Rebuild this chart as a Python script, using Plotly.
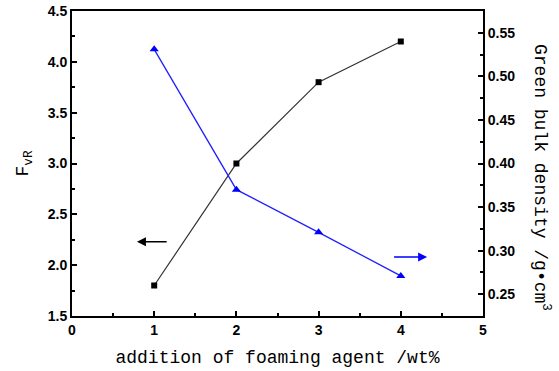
import plotly.graph_objects as go

additions = [1, 2, 3, 4]
fvr_values = [1.8, 3.0, 3.8, 4.2]
density_values = [0.531, 0.370, 0.321, 0.271]

x_ticks = [0, 1, 2, 3, 4, 5]
left_ticks = [1.5, 2.0, 2.5, 3.0, 3.5, 4.0, 4.5]
right_ticks = [0.25, 0.30, 0.35, 0.40, 0.45, 0.50, 0.55]

# indicator arrows (data coords): [head_x, tail_x, y on left axis]
left_arrow = [0.79, 1.17, 2.23]
right_arrow = [4.32, 3.90, 2.08]

title_font = dict(family="Liberation Mono", size=18, color="black")

fig = go.Figure()
fig.add_trace(go.Scatter(
    x=additions, y=fvr_values, mode="lines+markers",
    line=dict(color="#333333", width=1.2),
    marker=dict(symbol="square", size=6, color="black"),
    showlegend=False))
fig.add_trace(go.Scatter(
    x=additions, y=density_values, mode="lines+markers", yaxis="y2",
    line=dict(color="#2020ff", width=1.3),
    marker=dict(symbol="triangle-up", size=8, color="#0000ff"),
    showlegend=False))

axis_common = dict(showline=True, linewidth=2, linecolor="black",
                   ticks="inside", ticklen=5, tickwidth=1.5, tickcolor="black",
                   showgrid=False, zeroline=False, automargin=False,
                   tickfont=dict(family="Liberation Sans", size=14, color="black", weight=700))

fig.update_layout(
    width=559, height=371,
    margin=dict(l=72, r=76, t=11, b=55),
    plot_bgcolor="white", paper_bgcolor="white",
    xaxis=dict(range=[0, 5], tickvals=x_ticks, mirror=True,
               minor=dict(dtick=0.5, ticks="inside", ticklen=3, tickcolor="black"),
               title=dict(text="addition of foaming agent /wt%", font=title_font, standoff=14),
               **axis_common),
    yaxis=dict(range=[1.5, 4.5], tickvals=left_ticks, tickformat=".1f",
               minor=dict(dtick=0.25, ticks="inside", ticklen=3, tickcolor="black"),
               title=dict(text="F<sub>vR</sub>", font=title_font, standoff=14),
               **axis_common),
    yaxis2=dict(range=[0.225, 0.575], tickvals=right_ticks, tickformat=".2f",
                overlaying="y", side="right",
                minor=dict(dtick=0.025, ticks="inside", ticklen=3, tickcolor="black"),
                **axis_common),
)

fig.add_annotation(x=left_arrow[0], y=left_arrow[2], ax=left_arrow[1], ay=left_arrow[2],
                   xref="x", yref="y", axref="x", ayref="y", text="",
                   showarrow=True, arrowhead=2, arrowsize=1.2, arrowwidth=1.5, arrowcolor="black")
fig.add_annotation(x=right_arrow[0], y=right_arrow[2], ax=right_arrow[1], ay=right_arrow[2],
                   xref="x", yref="y", axref="x", ayref="y", text="",
                   showarrow=True, arrowhead=2, arrowsize=1.2, arrowwidth=1.5, arrowcolor="#0000ff")

fig.add_annotation(x=(542 - 72) / (559 - 72 - 76), y=(316 - 177) / (316 - 11),
                   xref="paper", yref="paper", text="Green bulk density /g\u2022cm<sup>3</sup>",
                   showarrow=False, textangle=90, font=title_font,
                   xanchor="center", yanchor="middle")

fig.write_html("out.html")
